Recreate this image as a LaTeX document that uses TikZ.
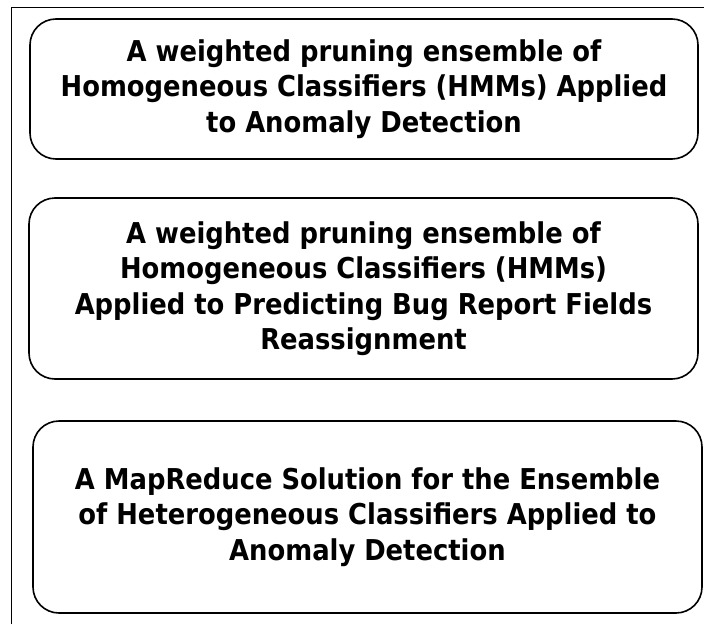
\documentclass[tikz,border=0pt]{standalone}
\usepackage{fontspec}
\setmainfont{DejaVu Sans Condensed}
\begin{document}
\begin{tikzpicture}[x=1pt,y=-1pt,
  card/.style={draw,line width=1.6pt,rounded corners=26pt,inner sep=0pt,align=center,
    font=\fontsize{28.7}{35.5}\selectfont\bfseries},
  frame/.style={line width=0.8pt}]
\useasboundingbox (0,0) rectangle (704,624);
\coordinate (fb) at (11,624);
\coordinate (fc) at (11,7);
\coordinate (fr) at (704,7);
\draw[frame] (fb) -- (fc) -- (fr);
\node[card,minimum width=668pt,minimum height=140pt] (b1) at (364,89)
  {A weighted pruning ensemble of\\Homogeneous Classifiers (HMMs) Applied\\to Anomaly Detection};
\node[card,minimum width=669pt,minimum height=181pt] (b2) at (363.5,288.5)
  {A weighted pruning ensemble of\\Homogeneous Classifiers (HMMs)\\Applied to Predicting Bug Report Fields\\Reassignment};
\node[card,minimum width=669pt,minimum height=192pt] (b3) at (367.5,517)
  {A MapReduce Solution for the Ensemble\\of Heterogeneous Classifiers Applied to\\Anomaly Detection};
\end{tikzpicture}
\end{document}
